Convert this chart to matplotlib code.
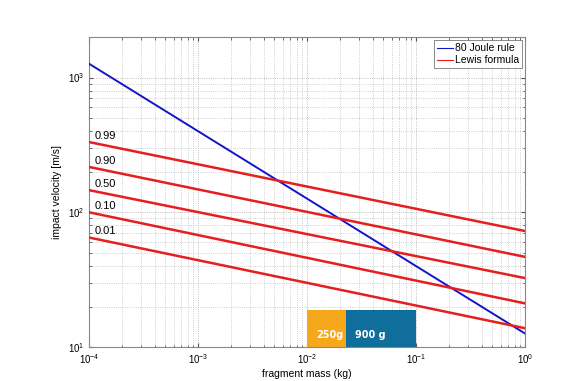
import matplotlib
matplotlib.use("Agg")
import matplotlib.pyplot as plt
import numpy as np

plt.rcParams['font.family'] = ['Liberation Sans', 'DejaVu Sans']
plt.rcParams['mathtext.default'] = 'regular'

# masses at the ends of the plotted range (kg)
mass = [1e-4, 1.0]

# 80 Joule rule
joule_v = [1265, 12.6]

# Lewis formula, probability curves (value at 1e-4 kg, value at 1 kg)
lewis_labels = ['0.99', '0.90', '0.50', '0.10', '0.01']
lewis_left = [332, 217, 146, 100, 65]
lewis_right = [72.6, 46.7, 32.5, 21.1, 13.8]

# mass bands
band_names = ['250g', '900 g']
band_lo = [0.01, 0.0226]
band_hi = [0.0226, 0.1]
band_top = 19
band_colors = ['#f5a81c', '#0f6e9b']

fig = plt.figure(figsize=(5.64, 3.81), dpi=100)
ax = fig.add_axes([0.158, 0.089, 0.773, 0.814])
ax.set_xscale('log')
ax.set_yscale('log')
ax.set_xlim(1e-4, 1)
ax.set_ylim(10, 2000)
ax.set_axisbelow(True)

for i in range(len(band_names)):
    ax.fill_between([band_lo[i], band_hi[i]], [10, 10], [band_top, band_top],
                    color=band_colors[i], lw=0, zorder=1)
    ax.text(band_lo[i] * 1.22, 11.6, band_names[i], color='white', fontweight='bold',
            fontsize=7, family=['DejaVu Sans Condensed', 'DejaVu Sans'], zorder=2)

ax.plot(mass, joule_v, color='#1414c8', lw=1.4, label='80 Joule rule', zorder=3)
for i in range(len(lewis_labels)):
    ax.plot(mass, [lewis_left[i], lewis_right[i]], color='#e61e1e', lw=1.8,
            label='Lewis formula' if i == 0 else None, zorder=3)
    ax.text(1.13e-4, lewis_left[i] * 1.02, lewis_labels[i], fontsize=8,
            ha='left', va='bottom', zorder=4)

ax.grid(True, which='major', ls=':', color='#a8a8a8', lw=0.6)
ax.grid(True, which='minor', ls=':', color='#c0c0c0', lw=0.6)
ax.tick_params(which='both', direction='in', labelsize=7, colors='#555555',
               labelcolor='black', top=True, right=True)
ax.tick_params(which='major', length=3)
ax.tick_params(which='minor', length=1.8)
for s in ax.spines.values():
    s.set_color('#888888')

ax.set_xlabel('fragment mass (kg)', fontsize=7.5, labelpad=2)
ax.set_ylabel('impact velocity [m/s]', fontsize=7.5, labelpad=4)

leg = ax.legend(loc='upper right', fontsize=7.5, handlelength=1.5, handletextpad=0.2,
                borderaxespad=0.3, fancybox=False, borderpad=0.3, labelspacing=0.2)
leg.get_frame().set_edgecolor('#555555')
leg.get_frame().set_linewidth(0.6)
for l in leg.get_lines():
    l.set_linewidth(0.8)

fig.savefig('out.png', dpi=100)
